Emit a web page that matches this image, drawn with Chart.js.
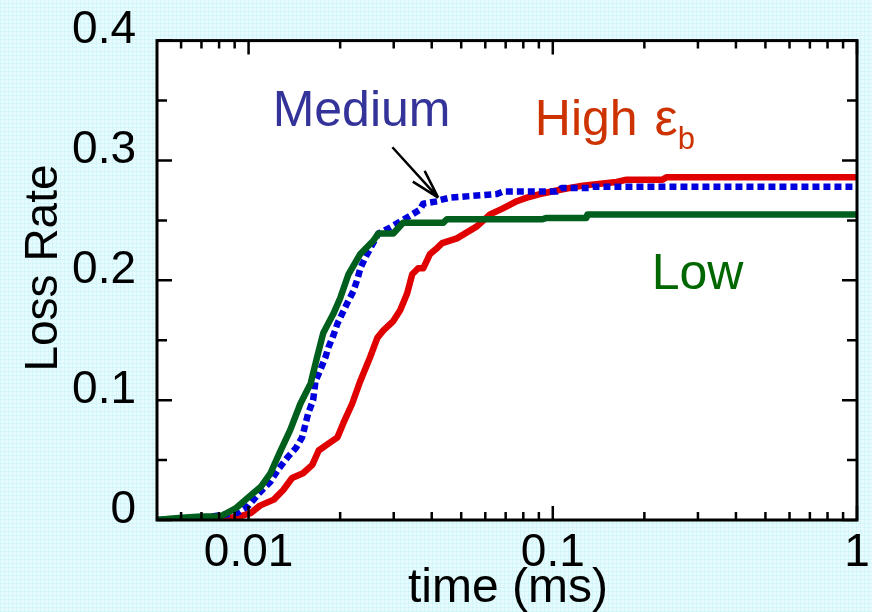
<!DOCTYPE html>
<html>
<head>
<meta charset="utf-8">
<script src="https://cdn.jsdelivr.net/npm/chart.js@4"></script>
<style>
  html, body { margin: 0; padding: 0; }
  body {
    width: 872px;
    height: 612px;
    overflow: hidden;
    background-color: #e5fbfd;
    background-image:
      repeating-linear-gradient(0deg, rgba(160, 228, 238, 0.22) 0 1px, transparent 1px 4px),
      repeating-linear-gradient(90deg, rgba(160, 228, 238, 0.22) 0 1px, transparent 1px 4px);
  }
  canvas { display: block; }
</style>
</head>
<body>
<canvas id="chart" width="872" height="612"></canvas>
<script>
// loss rate vs time (ms) for three eps_b settings
const lowTime = [0.005, 0.0055, 0.0062, 0.007, 0.0081, 0.0091, 0.0102, 0.011, 0.0118, 0.0127,
    0.0137, 0.0148, 0.016, 0.0168, 0.0176, 0.019, 0.02, 0.0213, 0.0233, 0.0257,
    0.0267, 0.0299, 0.0322, 0.0436, 0.0449, 0.0927, 0.0955, 0.129, 0.130, 1.0];
const lowRate = [0, 0.001, 0.002, 0.003, 0.003, 0.010, 0.021, 0.028, 0.039, 0.057,
    0.075, 0.097, 0.114, 0.136, 0.156, 0.172, 0.185, 0.205, 0.222, 0.233,
    0.239, 0.239, 0.248, 0.248, 0.251, 0.251, 0.252, 0.252, 0.255, 0.255];

const mediumTime = [0.005, 0.0067, 0.0092, 0.0100, 0.0108, 0.0118, 0.0125, 0.0134, 0.0143, 0.0150,
    0.0157, 0.0163, 0.0166, 0.0172, 0.0179, 0.0183, 0.0190, 0.0196, 0.0203, 0.0211,
    0.0221, 0.0228, 0.0233, 0.0242, 0.0267, 0.0292, 0.0310, 0.0340, 0.0366, 0.0375,
    0.0420, 0.0426, 0.0460, 0.0655, 0.0686, 0.1030, 0.1070, 0.1322, 0.1353, 1.0];
const mediumRate = [0, 0.001, 0.006, 0.012, 0.022, 0.032, 0.042, 0.052, 0.060, 0.069,
    0.089, 0.100, 0.116, 0.125, 0.136, 0.144, 0.154, 0.164, 0.172, 0.181,
    0.191, 0.201, 0.210, 0.219, 0.239, 0.244, 0.248, 0.254, 0.259, 0.264,
    0.266, 0.267, 0.269, 0.272, 0.274, 0.274, 0.277, 0.277, 0.278, 0.278];

const highTime = [0.005, 0.0069, 0.0092, 0.0102, 0.0109, 0.0121, 0.0130, 0.0139, 0.0151, 0.0162,
    0.0170, 0.0186, 0.0196, 0.0205, 0.0219, 0.0233, 0.0251, 0.0265, 0.0277, 0.0299,
    0.0315, 0.0332, 0.0345, 0.0361, 0.0375, 0.0395, 0.0417, 0.0433, 0.0484, 0.0522,
    0.0563, 0.0622, 0.0686, 0.0762, 0.0822, 0.0907, 0.1078, 0.1255, 0.1621, 0.1749,
    0.2295, 0.2365, 1.0];
const highRate = [0, 0, 0.0025, 0.006, 0.012, 0.017, 0.025, 0.035, 0.039, 0.046,
    0.058, 0.065, 0.069, 0.081, 0.097, 0.116, 0.136, 0.152, 0.158, 0.166,
    0.175, 0.189, 0.205, 0.210, 0.210, 0.222, 0.227, 0.231, 0.235, 0.240,
    0.245, 0.255, 0.260, 0.266, 0.269, 0.272, 0.276, 0.279, 0.282, 0.284,
    0.284, 0.286, 0.286];

const xTickLabels = [0.01, 0.1, 1];
const xMinorTicks = [0.006, 0.007, 0.008, 0.009,
    0.02, 0.03, 0.04, 0.05, 0.06, 0.07, 0.08, 0.09,
    0.2, 0.3, 0.4, 0.5, 0.6, 0.7, 0.8, 0.9];
const yTickLabels = [0, 0.1, 0.2, 0.3, 0.4];
const yMinorTicks = [0.05, 0.15, 0.25, 0.35];

const FONT = "'Liberation Sans', Arial, sans-serif";

const toPoints = (xs, ys) => xs.map((x, i) => ({x: x, y: ys[i]}));

// white plot box, inward ticks on all four sides, labels and arrow
const framePlugin = {
    id: 'frame',
    beforeDatasetsDraw(chart) {
        const {ctx, chartArea: a} = chart;
        ctx.save();
        ctx.fillStyle = '#ffffff';
        ctx.fillRect(a.left, a.top, a.width, a.height);
        ctx.restore();
    },
    afterDatasetsDraw(chart) {
        const {ctx, chartArea: a, scales: {x, y}} = chart;
        ctx.save();
        ctx.strokeStyle = '#000';
        ctx.lineWidth = 2.5;
        ctx.beginPath();
        const xTick = (v, len) => {
            const px = x.getPixelForValue(v);
            ctx.moveTo(px, a.bottom); ctx.lineTo(px, a.bottom - len);
            ctx.moveTo(px, a.top); ctx.lineTo(px, a.top + len);
        };
        const yTick = (v, len) => {
            const py = y.getPixelForValue(v);
            ctx.moveTo(a.left, py); ctx.lineTo(a.left + len, py);
            ctx.moveTo(a.right, py); ctx.lineTo(a.right - len, py);
        };
        xTickLabels.forEach(v => xTick(v, 14));
        xMinorTicks.forEach(v => xTick(v, 8));
        yTickLabels.forEach(v => yTick(v, 15));
        yMinorTicks.forEach(v => yTick(v, 10));
        ctx.stroke();
        ctx.lineWidth = 3;
        ctx.strokeRect(a.left, a.top, a.width, a.height);
        ctx.restore();
    },
    afterDraw(chart) {
        const {ctx, chartArea: a, scales: {x, y}} = chart;
        ctx.save();
        ctx.textBaseline = 'alphabetic';
        ctx.textAlign = 'left';

        // series names
        ctx.font = '50px ' + FONT;
        ctx.fillStyle = '#333399';
        ctx.fillText('Medium', x.getPixelForValue(0.0120), y.getPixelForValue(0.3285));

        ctx.fillStyle = '#cc3300';
        let hx = x.getPixelForValue(0.0873);
        const hy = y.getPixelForValue(0.321);
        ctx.fillText('High ', hx, hy);
        hx += ctx.measureText('High ').width + 3;
        ctx.font = '52px ' + FONT;
        ctx.fillText('\u03b5', hx, hy);
        hx += ctx.measureText('\u03b5').width;
        ctx.font = '31px ' + FONT;
        ctx.fillText('b', hx, hy + 14);

        ctx.font = '50px ' + FONT;
        ctx.fillStyle = '#006600';
        ctx.fillText('Low', x.getPixelForValue(0.2113), y.getPixelForValue(0.193));

        // arrow pointing at the Medium curve
        const x0 = x.getPixelForValue(0.0297), y0 = y.getPixelForValue(0.311);
        const x1 = x.getPixelForValue(0.0420), y1 = y.getPixelForValue(0.269);
        const ang = Math.atan2(y1 - y0, x1 - x0);
        ctx.strokeStyle = '#000';
        ctx.lineWidth = 2.5;
        ctx.beginPath();
        ctx.moveTo(x0, y0);
        ctx.lineTo(x1, y1);
        [-0.27, 0.27].forEach(d => {
            ctx.moveTo(x1, y1);
            ctx.lineTo(x1 - 30 * Math.cos(ang + d), y1 - 30 * Math.sin(ang + d));
        });
        ctx.stroke();

        // axis titles
        ctx.fillStyle = '#000';
        ctx.font = '48px ' + FONT;
        ctx.textAlign = 'center';
        ctx.fillText('time (ms)', (a.left + a.right) / 2 + 1, 602);

        ctx.font = '46px ' + FONT;
        ctx.translate(57, 268);
        ctx.rotate(-Math.PI / 2);
        ctx.fillText('Loss Rate', 0, 0);
        ctx.restore();
    }
};

Chart.defaults.color = '#000';

new Chart(document.getElementById('chart'), {
    type: 'line',
    data: {
        datasets: [
            {
                label: 'Low',
                data: toPoints(lowTime, lowRate),
                borderColor: '#005f1c',
                borderWidth: 6.5,
                order: 1
            },
            {
                label: 'Medium',
                data: toPoints(mediumTime, mediumRate),
                borderColor: '#0000dd',
                borderWidth: 6.5,
                borderDash: [7, 4],
                borderCapStyle: 'butt',
                order: 2
            },
            {
                label: 'High',
                data: toPoints(highTime, highRate),
                borderColor: '#e00000',
                borderWidth: 6.5,
                order: 3
            }
        ]
    },
    options: {
        responsive: false,
        animation: false,
        events: [],
        layout: {padding: {top: 39, right: 15, left: 0, bottom: 0}},
        elements: {
            point: {radius: 0},
            line: {tension: 0, fill: false, borderJoinStyle: 'round'}
        },
        plugins: {
            legend: {display: false},
            tooltip: {enabled: false}
        },
        scales: {
            x: {
                type: 'logarithmic',
                min: 0.005,
                max: 1,
                grid: {display: false},
                border: {display: false},
                afterBuildTicks: scale => {
                    scale.ticks = xTickLabels.map(v => ({value: v}));
                },
                afterFit: scale => { scale.height = 92; },
                ticks: {
                    autoSkip: false,
                    maxRotation: 0,
                    padding: -2,
                    font: {family: FONT, size: 46},
                    callback: v => String(v)
                }
            },
            y: {
                min: 0,
                max: 0.4,
                grid: {display: false},
                border: {display: false},
                afterBuildTicks: scale => {
                    scale.ticks = yTickLabels.map(v => ({value: v}));
                },
                afterFit: scale => { scale.width = 157; },
                ticks: {
                    padding: 13,
                    labelOffset: -10,
                    font: {family: FONT, size: 46},
                    callback: v => v === 0 ? '0' : v.toFixed(1)
                }
            }
        }
    },
    plugins: [framePlugin]
});
</script>
</body>
</html>
